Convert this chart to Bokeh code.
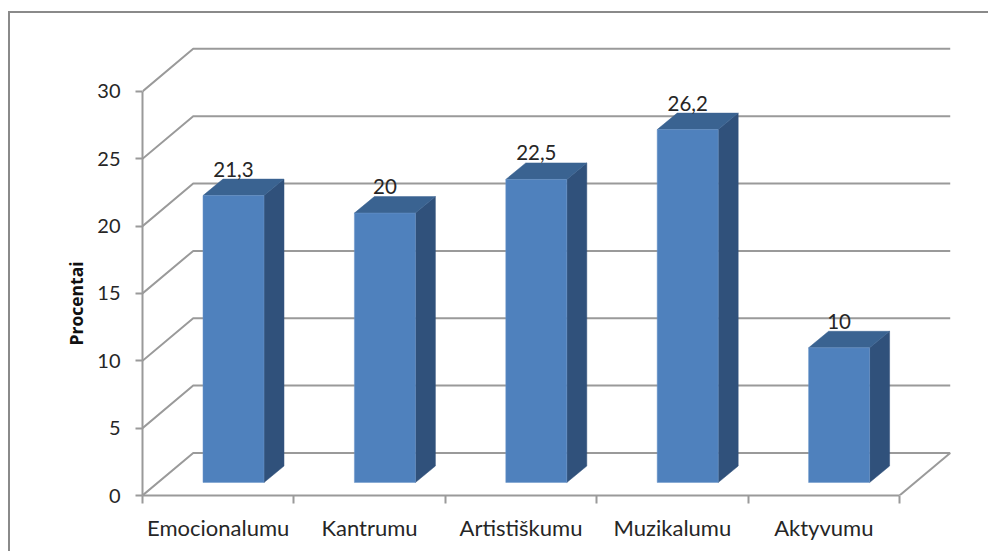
from bokeh.plotting import figure
from bokeh.embed import file_html
from bokeh.resources import INLINE
from bokeh.models import FixedTicker, Title
from bokeh.core.properties import value

categories = ["Emocionalumu", "Kantrumu", "Artistiškumu", "Muzikalumu", "Aktyvumu"]
values = [21.3, 20, 22.5, 26.2, 10]
y_ticks = [0, 5, 10, 15, 20, 25, 30]
y_title = "Procentai"

FONT = "Lato"
TXT = "#262626"
GRID = "#9A9A9A"
GW = 2
DEPTH_X, DEPTH_Y = 0.335, 3.16      # wall depth in axis units
BAR_W, BAR_SHIFT = 0.403, 0.101
SIDE_X, SIDE_Y = 0.132, 1.225
LIFT = 0.965

n = len(categories)
p = figure(width=980, height=540, x_range=(0, 5.35), y_range=(0, 33.78),
           output_backend="svg", toolbar_location=None,
           min_border_left=132, min_border_right=38, min_border_top=27, min_border_bottom=58,
           outline_line_color=None, background_fill_color="white",
           styles={"margin-left": "8px", "margin-top": "11px",
                   "border-left": "2px solid #8A8A8A", "border-top": "2px solid #8A8A8A"})
p.grid.visible = False

# walls
for t in y_ticks:
    p.line([0, DEPTH_X, n + DEPTH_X], [t, t + DEPTH_Y, t + DEPTH_Y], line_color=GRID, line_width=GW)
p.line([n, n + DEPTH_X], [0, DEPTH_Y], line_color=GRID, line_width=GW)

# bars
lefts = [i + 0.5 + BAR_SHIFT - BAR_W / 2 for i in range(n)]
rights = [l + BAR_W for l in lefts]
tops = [v + LIFT for v in values]
p.patches([[r, r + SIDE_X, r + SIDE_X, r] for r in rights],
          [[LIFT, LIFT + SIDE_Y, t + SIDE_Y, t] for t in tops],
          fill_color="#30517B", line_color="#30517B", line_width=0.5)
p.patches([[l, l + SIDE_X, r + SIDE_X, r] for l, r in zip(lefts, rights)],
          [[t, t + SIDE_Y, t + SIDE_Y, t] for t in tops],
          fill_color="#3A6391", line_color="#3A6391", line_width=0.5)
p.quad(left=lefts, right=rights, bottom=LIFT, top=tops, fill_color="#4F81BD", line_color="#6C97CB", line_width=0.5)

# data labels
p.text([(l + r) / 2 for l, r in zip(lefts, rights)], [t + SIDE_Y for t in tops],
       text=[str(v).replace(".", ",") for v in values],
       text_align="center", text_baseline="alphabetic", y_offset=-10,
       text_font=value(FONT), text_font_size="20.5px", text_color=TXT)

# axes
ya = p.yaxis[0]
ya.ticker = FixedTicker(ticks=y_ticks)
ya.bounds = (0, 30)
ya.axis_line_color = GRID
ya.axis_line_width = GW
ya.major_tick_line_color = GRID
ya.major_tick_line_width = GW
ya.major_tick_in = 0
ya.major_tick_out = 7
ya.minor_tick_line_color = None
ya.major_label_standoff = 15
ya.major_label_text_font = FONT
ya.major_label_text_font_size = "20px"
ya.major_label_text_color = TXT

xa = p.xaxis[0]
centers = [i + 0.5 for i in range(n)]
xa.ticker = FixedTicker(ticks=centers, minor_ticks=list(range(n + 1)))
xa.bounds = (0, n)
xa.major_label_overrides = dict(zip(centers, categories))
xa.axis_line_color = GRID
xa.axis_line_width = GW
xa.major_tick_line_color = None
xa.major_tick_in = 0
xa.major_tick_out = 0
xa.minor_tick_line_color = GRID
xa.minor_tick_line_width = GW
xa.minor_tick_in = 0
xa.minor_tick_out = 8
xa.major_label_standoff = 10
xa.major_label_text_font = FONT
xa.major_label_text_font_size = "22px"
xa.major_label_text_color = TXT

p.add_layout(Title(text=y_title, align="left", offset=150, standoff=13, text_font="Open Sans",
                   text_font_style="bold", text_font_size="17.5px", text_color="#111111"), "left")

open("out.html", "w").write(file_html(p, INLINE))
